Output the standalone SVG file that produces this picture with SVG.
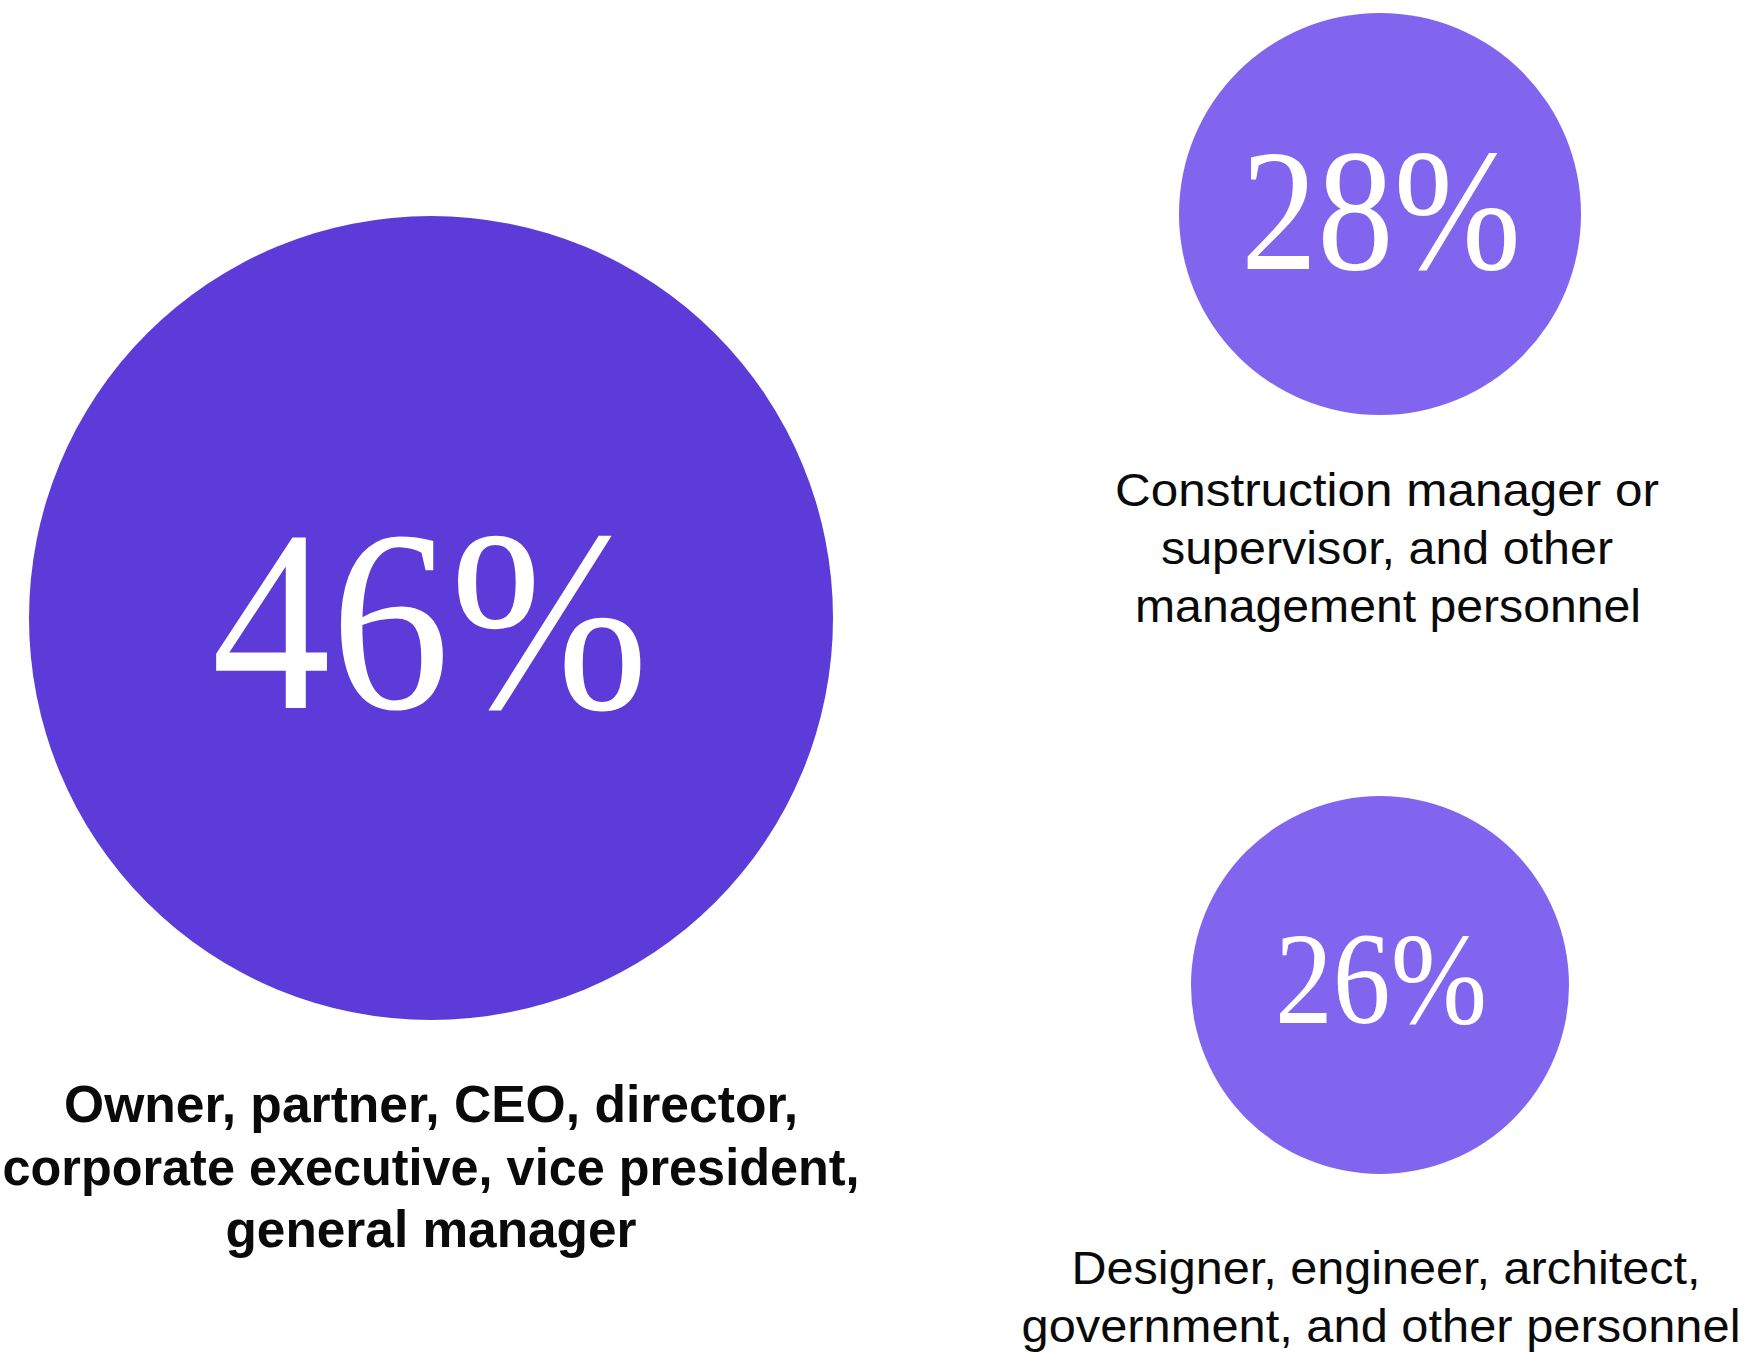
<svg xmlns="http://www.w3.org/2000/svg" width="1747" height="1352" viewBox="0 0 1747 1352">
<style>
.pct{font-family:"Liberation Serif","DejaVu Serif",serif;fill:#ffffff;text-anchor:middle}
.lbl{font-family:"Liberation Sans","Noto Sans",sans-serif;fill:#0a0a0a;text-anchor:middle}
.bold{font-weight:bold}
.big{fill:#5d3bd8}
.small{fill:#8265ef}
</style>
<rect x="0" y="0" width="1747" height="1352" fill="#ffffff"/>
<g id="node-46">
<circle class="big" cx="431" cy="618" r="402"/>
<text class="pct" x="430" y="708" font-size="259" textLength="437" lengthAdjust="spacingAndGlyphs">46%</text>
<text class="lbl bold" font-size="52" x="431" y="1122" textLength="734" lengthAdjust="spacingAndGlyphs">Owner, partner, CEO, director,</text>
<text class="lbl bold" font-size="52" x="431" y="1185" textLength="857" lengthAdjust="spacingAndGlyphs">corporate executive, vice president,</text>
<text class="lbl bold" font-size="52" x="431" y="1247" textLength="411" lengthAdjust="spacingAndGlyphs">general manager</text>
</g>
<g id="node-28">
<circle class="small" cx="1380" cy="214" r="201"/>
<text class="pct" x="1381" y="269" font-size="173" textLength="280" lengthAdjust="spacingAndGlyphs">28%</text>
<text class="lbl" font-size="46" x="1387" y="506" textLength="544" lengthAdjust="spacingAndGlyphs">Construction manager or</text>
<text class="lbl" font-size="46" x="1387" y="564" textLength="452" lengthAdjust="spacingAndGlyphs">supervisor, and other</text>
<text class="lbl" font-size="46" x="1388" y="622" textLength="506" lengthAdjust="spacingAndGlyphs">management personnel</text>
</g>
<g id="node-26">
<circle class="small" cx="1380" cy="985" r="189"/>
<text class="pct" x="1381" y="1023" font-size="132" textLength="212" lengthAdjust="spacingAndGlyphs">26%</text>
<text class="lbl" font-size="46" x="1386" y="1284" textLength="629" lengthAdjust="spacingAndGlyphs">Designer, engineer, architect,</text>
<text class="lbl" font-size="46" x="1381" y="1342" textLength="719" lengthAdjust="spacingAndGlyphs">government, and other personnel</text>
</g>
<g id="connectors"></g>
</svg>
